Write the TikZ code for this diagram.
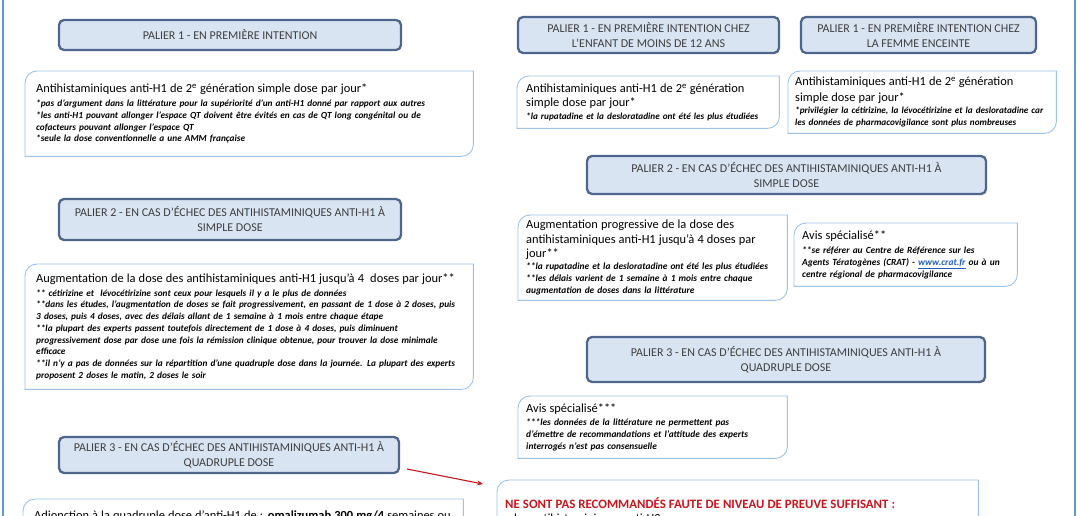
\documentclass[tikz,border=0pt]{standalone}
\usepackage{fontspec}
\setmainfont{Carlito}
\usetikzlibrary{arrows.meta}
\definecolor{hdrfill}{HTML}{D9E4F2}
\definecolor{hdrline}{HTML}{4F668C}
\definecolor{hdrtext}{HTML}{3F3F3F}
\definecolor{cline}{HTML}{9DC3E6}
\definecolor{sideline}{HTML}{5B9BD5}
\definecolor{alert}{HTML}{C8161D}
\definecolor{linkblue}{HTML}{1F5FBF}
\newcommand{\ttlx}[1]{{\fontsize{12.4}{14}\selectfont\upshape\mdseries #1}}
\newcommand{\LL}[1]{\mbox{#1}}
\newcommand{\notefont}{\fontsize{9.3}{11.7}\selectfont\itshape\bfseries}
\newcommand{\notefontr}{\fontsize{9.4}{11.8}\selectfont\itshape\bfseries}
\newcommand{\smallnote}{\fontsize{9.2}{12.3}\selectfont\itshape\bfseries}
\newcommand{\diagframe}[1]{\draw[cframe] (#1.north) [sharp corners] -- (#1.north east) -- (#1.east) [rounded corners=12pt] -- (#1.south east) -- (#1.south) [sharp corners] -- (#1.south west) -- (#1.west) [rounded corners=12pt] -- (#1.north west) -- cycle;}
\tikzset{
  hdr/.style={draw=hdrline, line width=2.3pt, fill=hdrfill, rounded corners=5pt, text=hdrtext,
    align=center, font=\fontsize{12}{15}\selectfont, inner sep=0pt},
  cbox/.style={anchor=north west, inner xsep=11pt, inner ysep=0pt, align=left, font=\notefont},
  cframe/.style={draw=cline, line width=0.9pt},
  redarrow/.style={draw=alert, line width=1.1pt, -{Stealth[length=6pt,width=5pt]}},
}
\begin{document}
\begin{tikzpicture}[x=1pt,y=-1pt]
\useasboundingbox (0,0) rectangle (1078,516);
\clip (0,0) rectangle (1078,516);
\fill[white] (0,0) rectangle (1078,516);
\draw[sideline, line width=2pt] (3,0) -- (3,516);
\draw[sideline, line width=2pt] (1075,0) -- (1075,516);

% ---------------- left column ----------------
\node[hdr, minimum width=342pt, minimum height=30pt] (h1l) at (230,35)
  {PALIER 1 - EN PREMIÈRE INTENTION};
\node[cbox, minimum width=448pt, minimum height=85pt, text width=426pt] (c1l) at (25,71)
  {\ttlx{Antihistaminiques anti-H1 de 2\textsuperscript{e} génération simple dose par jour*}\\[2.5pt]\LL{*pas d’argument dans la littérature pour la supériorité d’un anti-H1 donné par rapport aux autres}\\\LL{*les anti-H1 pouvant allonger l’espace QT doivent être évités en cas de QT long congénital ou de}\\\LL{cofacteurs pouvant allonger l’espace QT}\\\LL{*seule la dose conventionnelle a une AMM française}};
\diagframe{c1l}

\node[hdr, minimum width=342pt, minimum height=41pt] (h2l) at (230,219.5)
  {PALIER 2 - EN CAS D’ÉCHEC DES ANTIHISTAMINIQUES ANTI-H1 À\\SIMPLE DOSE};
\node[cbox, minimum width=448pt, minimum height=125pt, text width=426pt] (c2l) at (25,264)
  {\ttlx{\LL{Augmentation de la dose des antihistaminiques anti-H1 jusqu’à 4\ \ doses par jour**}}\\[2pt]\LL{** cétirizine et \ lévocétirizine sont ceux pour lesquels il y a le plus de données}\\\LL{**dans les études, l’augmentation de doses se fait progressivement, en passant de 1 dose à 2 doses, puis}\\\LL{3 doses, puis 4 doses, avec des délais allant de 1 semaine à 1 mois entre chaque étape}\\\LL{**la plupart des experts passent toutefois directement de 1 dose à 4 doses, puis diminuent}\\\LL{progressivement dose par dose une fois la rémission clinique obtenue, pour trouver la dose minimale}\\\LL{efficace}\\\LL{**il n’y a pas de données sur la répartition d’une quadruple dose dans la journée. La plupart des experts}\\\LL{proposent 2 doses le matin, 2 doses le soir}};
\diagframe{c2l}

\node[hdr, minimum width=340pt, minimum height=36pt] (h3l) at (229,455)
  {PALIER 3 - EN CAS D’ÉCHEC DES ANTIHISTAMINIQUES ANTI-H1 À\\QUADRUPLE DOSE};
\node[cbox, minimum width=440pt, minimum height=34pt, text width=418pt] (c3l) at (23,499)
  {\ttlx{\LL{Adjonction à la quadruple dose d’anti-H1 de : \textbf{omalizumab 300 mg/4} semaines ou}}};
\diagframe{c3l}

% ---------------- right column ----------------
\node[hdr, minimum width=261pt, minimum height=36pt] (h1e) at (648.5,35)
  {PALIER 1 - EN PREMIÈRE INTENTION CHEZ\\L’ENFANT DE MOINS DE 12 ANS};
\node[cbox, minimum width=262pt, minimum height=52pt, text width=244pt, inner xsep=9pt, font=\smallnote] (c1e) at (517,76)
  {\ttlx{Antihistaminiques anti-H1 de 2\textsuperscript{e} génération}\\[2pt]\ttlx{simple dose par jour*}\\[0pt]\LL{*la rupatadine et la desloratadine ont été les plus étudiées}};
\diagframe{c1e}

\node[hdr, minimum width=235pt, minimum height=36pt] (h1f) at (918.5,35)
  {PALIER 1 - EN PREMIÈRE INTENTION CHEZ\\LA FEMME ENCEINTE};
\node[cbox, minimum width=268pt, minimum height=62pt, text width=254pt, inner xsep=7pt, font=\smallnote] (c1f) at (788,71)
  {\ttlx{Antihistaminiques anti-H1 de 2\textsuperscript{e} génération}\\[3pt]\ttlx{simple dose par jour*}\\[0pt]\LL{*privilégier la cétirizine, la lévocétirizine et la desloratadine car}\\\LL{les données de pharmacovigilance sont plus nombreuses}};
\diagframe{c1f}

\node[hdr, minimum width=399pt, minimum height=38pt] (h2r) at (786.5,175)
  {PALIER 2 - EN CAS D’ÉCHEC DES ANTIHISTAMINIQUES ANTI-H1 À\\SIMPLE DOSE};
\node[cbox, minimum width=269pt, minimum height=85pt, text width=253pt, inner xsep=8pt, font=\notefontr] (c2a) at (518,215)
  {\ttlx{Augmentation progressive de la dose des}\\[2.5pt]\ttlx{\LL{antihistaminiques anti-H1 jusqu’à 4 doses par}}\\[2.5pt]\ttlx{jour**}\\[0.5pt]\LL{**la rupatadine et la desloratadine ont été les plus étudiées}\\\LL{**les délais varient de 1 semaine à 1 mois entre chaque}\\\LL{augmentation de doses dans la littérature}};
\diagframe{c2a}

\node[cbox, minimum width=223pt, minimum height=63pt, text width=207pt, inner xsep=8pt, font=\notefontr] (c2b) at (794,223)
  {\ttlx{Avis spécialisé**}\\[2pt]\LL{**se référer au Centre de Référence sur les}\\\LL{Agents Tératogènes (CRAT) - {\color{linkblue}\underline{www.crat.fr}} ou à un}\\\LL{centre régional de pharmacovigilance}};
\diagframe{c2b}

\node[hdr, minimum width=398pt, minimum height=45pt] (h3r) at (786,359.5)
  {PALIER 3 - EN CAS D’ÉCHEC DES ANTIHISTAMINIQUES ANTI-H1 À\\QUADRUPLE DOSE};
\node[cbox, minimum width=269pt, minimum height=62pt, text width=253pt, inner xsep=8pt, font=\notefontr] (c3r) at (518,396)
  {\ttlx{Avis spécialisé***}\\[2pt]\LL{***les données de la littérature ne permettent pas}\\\LL{d’émettre de recommandations et l’attitude des experts}\\\LL{interrogés n’est pas consensuelle}};
\diagframe{c3r}

\node[cbox, minimum width=481pt, minimum height=62pt, text width=465pt, inner xsep=8pt] (c4r) at (497,480)
  {{\color{alert}\fontsize{12.8}{14}\selectfont\upshape\bfseries NE SONT PAS RECOMMANDÉS FAUTE DE NIVEAU DE PREUVE SUFFISANT :}\\[2pt]\hspace*{9pt}\ttlx{les antihistaminiques anti-H2}};
\diagframe{c4r}

% ---------------- arrow ----------------
\coordinate (a1) at (407,469);
\coordinate (a2) at (483,484);
\draw[redarrow] (a1) -- (a2);
\end{tikzpicture}
\end{document}
